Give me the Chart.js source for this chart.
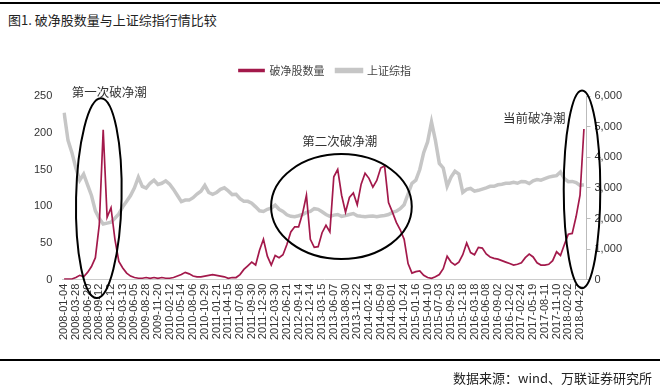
<!DOCTYPE html>
<html>
<head>
<meta charset="utf-8">
<script src="https://cdn.jsdelivr.net/npm/chart.js@4.4.1/dist/chart.umd.min.js"></script>
<style>
  html, body { margin: 0; padding: 0; background: #fff; }
  #wrap { position: relative; width: 664px; height: 389px; overflow: hidden; font-family: "Noto Sans CJK SC", sans-serif; }
  #topline { position: absolute; left: 0; top: 2px; width: 660px; height: 2px; background: #000; }
  #title { position: absolute; left: 8px; top: 12px; font-size: 13px; line-height: 16px; color: #222; }
  #botline { position: absolute; left: 0; top: 359px; width: 660px; height: 2px; background: #000; }
  #source { position: absolute; right: 12px; top: 370px; font-size: 13px; line-height: 16px; color: #222; }
  #chartBox { position: absolute; left: 0; top: 0; width: 664px; height: 389px; }
</style>
</head>
<body>
<div id="wrap">
  <div id="topline"></div>
  <div id="title">图1. 破净股数量与上证综指行情比较</div>
  <div id="chartBox"><canvas id="pbChart"></canvas></div>
  <div id="botline"></div>
  <div id="source">数据来源：wind、万联证券研究所</div>
</div>
<script>
// 横轴刻度（每12个交易周一个）
const tickLabels = [
    "2008-01-04", "2008-03-28", "2008-06-20", "2008-09-12", "2008-12-12",
    "2009-03-13", "2009-06-05", "2009-08-28", "2009-11-20",
    "2010-02-12", "2010-05-14", "2010-08-06", "2010-10-29",
    "2011-01-21", "2011-04-15", "2011-07-08", "2011-09-30", "2011-12-30",
    "2012-03-30", "2012-06-21", "2012-09-14", "2012-12-14",
    "2013-03-15", "2013-06-07", "2013-08-30", "2013-11-22",
    "2014-02-14", "2014-05-09", "2014-08-01", "2014-10-24",
    "2015-01-16", "2015-04-10", "2015-07-03", "2015-09-25", "2015-12-18",
    "2016-03-18", "2016-06-08", "2016-09-02", "2016-12-02",
    "2017-02-24", "2017-05-19", "2017-08-11", "2017-11-10",
    "2018-02-02", "2018-04-27"
];

// 每个刻度间隔取3个点（约每4周一个）
const PTS_PER_TICK = 3;

// 破净股数量（左轴）
const pbCount = [
    1, 1, 1, 3, 6, 4, 10, 18, 30, 75,
    204, 85, 98, 55, 25, 16, 9, 5, 3, 2,
    2, 3, 2, 3, 2, 3, 2, 2, 3, 5,
    7, 10, 8, 5, 4, 4, 5, 6, 7, 6,
    5, 4, 2, 3, 3, 7, 14, 19, 24, 20,
    40, 55, 32, 20, 33, 30, 34, 48, 65, 72,
    72, 90, 115, 55, 44, 45, 64, 74, 65, 140,
    150, 115, 92, 112, 118, 102, 130, 145, 138, 126,
    135, 152, 155, 105, 92, 78, 68, 55, 22, 9,
    11, 12, 6, 3, 2, 4, 7, 15, 32, 24,
    20, 24, 34, 50, 37, 34, 44, 43, 35, 31,
    29, 28, 26, 24, 22, 20, 21, 23, 30, 35,
    31, 23, 20, 20, 21, 26, 38, 33, 48, 62,
    63, 86, 115, 205
];

// 上证综指（右轴）
const sseIndex = [
    5450, 4550, 4150, 3650, 3250, 3450, 3100, 2750, 2250, 2000,
    1820, 1850, 1880, 2010, 2150, 2380, 2560, 2750, 3000, 3350,
    3050, 2990, 3150, 3250, 3110, 3150, 3230, 3120, 2950, 2750,
    2550, 2600, 2600, 2680, 2800, 2890, 3080, 2850, 2790, 2850,
    2950, 3000, 2900, 2780, 2790, 2650, 2560, 2560, 2500, 2380,
    2250, 2230, 2300, 2340, 2440, 2300, 2230, 2120, 2070, 2060,
    2090, 2130, 2200, 2230, 2320, 2300, 2220, 2130, 2070, 2110,
    2130, 2070, 2100, 2130, 2160, 2090, 2070, 2060, 2070, 2080,
    2060, 2080, 2100, 2130, 2200, 2240, 2320, 2450, 2800, 3150,
    3250, 3600, 4150, 4500, 5150, 4550, 3800, 3650, 3050, 3350,
    3540, 3450, 2850, 2950, 2980, 2890, 2920, 2960, 3000, 3050,
    3050, 3100, 3120, 3150, 3150, 3180, 3150, 3210, 3200, 3140,
    3230, 3270, 3250, 3300, 3350, 3380, 3400, 3520, 3300, 3200,
    3210, 3170, 3080, 3100
];

// 三次破净潮的圈注（x为刻度序号，y为左轴数值）
const waveRings = [
    { x: 2.96, y: 111, rx: 1.94, ry: 136, rot: 0.022 },
    { x: 23.65, y: 99.6, rx: 6.0, ry: 71.4, rot: 0 },
    { x: 44.17, y: 123, rx: 1.56, ry: 134.6, rot: 0 }
];
const waveNotes = [
    { text: "第一次破净潮", x: 3.84, y: 255 },
    { text: "第二次破净潮", x: 23.5, y: 188 },
    { text: "当前破净潮", x: 40.1, y: 220 }
];

const toPoints = (arr) => arr.map((v, k) => ({ x: k / PTS_PER_TICK, y: v }));

// 图例下方留一点空隙
const legendGap = {
    id: "legendGap",
    beforeInit(chart) {
        const fit = chart.legend.fit;
        chart.legend.fit = function () {
            fit.call(this);
            this.height += 10;
        };
    },
};

// 画椭圆和文字标注
const waveMarks = {
    id: "waveMarks",
    afterDatasetsDraw(chart) {
        const { ctx } = chart;
        const x = chart.scales.x;
        const y = chart.scales.y;
        ctx.save();
        ctx.strokeStyle = "#000";
        ctx.lineWidth = 2;
        waveRings.forEach((r) => {
            const cx = x.getPixelForValue(r.x);
            const cy = y.getPixelForValue(r.y);
            const rx = x.getPixelForValue(r.x + r.rx) - cx;
            const ry = cy - y.getPixelForValue(r.y + r.ry);
            ctx.beginPath();
            ctx.ellipse(cx, cy, rx, ry, r.rot, 0, Math.PI * 2);
            ctx.stroke();
        });
        ctx.fillStyle = "#333";
        ctx.font = '12.5px "Noto Sans CJK SC"';
        ctx.textAlign = "center";
        ctx.textBaseline = "middle";
        waveNotes.forEach((n) => {
            ctx.fillText(n.text, x.getPixelForValue(n.x), y.getPixelForValue(n.y));
        });
        ctx.restore();
    },
};

document.addEventListener("DOMContentLoaded", function () {
    Chart.defaults.font.family = '"Liberation Sans", Arial, sans-serif';
    Chart.defaults.color = "#333";

    const ctx = document.getElementById("pbChart").getContext("2d");
    new Chart(ctx, {
        type: "line",
        data: {
            datasets: [
                {
                    label: "破净股数量",
                    data: toPoints(pbCount),
                    borderColor: "#a3194b",
                    backgroundColor: "#a3194b",
                    borderWidth: 1.7,
                    pointRadius: 0,
                    yAxisID: "y",
                },
                {
                    label: "上证综指",
                    data: toPoints(sseIndex),
                    borderColor: "#c6c6c6",
                    backgroundColor: "#c6c6c6",
                    borderWidth: 3.5,
                    pointRadius: 0,
                    yAxisID: "y1",
                },
            ],
        },
        options: {
            responsive: true,
            maintainAspectRatio: false,
            animation: false,
            layout: {
                padding: { top: 53, left: 24, right: 38, bottom: 45 },
            },
            plugins: {
                legend: {
                    labels: {
                        boxWidth: 25,
                        boxHeight: 2,
                        padding: 12,
                        font: { family: '"Noto Sans CJK SC"', size: 11 },
                        color: "#444",
                    },
                },
                tooltip: { enabled: false },
            },
            scales: {
                x: {
                    type: "linear",
                    min: -0.15,
                    max: 44.55,
                    afterBuildTicks: (axis) => {
                        axis.ticks = tickLabels.map((_, i) => ({ value: i }));
                    },
                    grid: { display: false, drawTicks: false },
                    border: { display: true, color: "#ccc" },
                    ticks: {
                        autoSkip: false,
                        minRotation: 90,
                        maxRotation: 90,
                        padding: 4,
                        font: { size: 11 },
                        callback: (value) => tickLabels[value],
                    },
                },
                y: {
                    position: "left",
                    min: 0,
                    max: 250,
                    grid: { display: false, drawTicks: false },
                    border: { display: false },
                    ticks: { stepSize: 50, padding: 10, font: { size: 11 } },
                },
                y1: {
                    position: "right",
                    min: 0,
                    max: 6000,
                    grid: { drawOnChartArea: false, drawTicks: true, tickLength: 4, color: "#bbb" },
                    border: { display: true, color: "#bbb" },
                    ticks: {
                        stepSize: 1000,
                        padding: 4,
                        font: { size: 11 },
                        callback: (value) => value.toLocaleString("en-US"),
                    },
                },
            },
        },
        plugins: [legendGap, waveMarks],
    });
});
</script>
</body>
</html>
